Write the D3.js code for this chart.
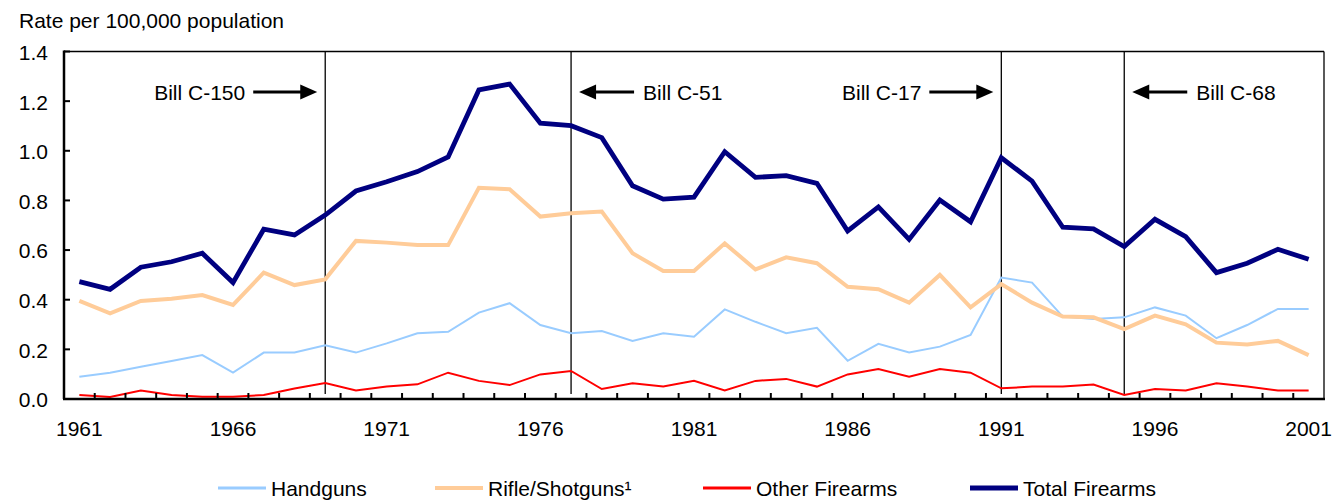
<!DOCTYPE html>
<html>
<head>
<meta charset="utf-8">
<script src="https://cdn.jsdelivr.net/npm/d3@7"></script>
<style>
  body { margin: 0; background: #fff; }
  svg text { font-family: "Liberation Sans", Arial, sans-serif; fill: #000; }
</style>
</head>
<body>
<div id="viz"></div>
<script>
const years = d3.range(1961, 2002);

const handguns = [0.090, 0.106, 0.130, 0.153, 0.177, 0.106, 0.187, 0.187, 0.216, 0.187,
    0.224, 0.265, 0.271, 0.348, 0.386, 0.298, 0.265, 0.274, 0.234, 0.265,
    0.251, 0.361, 0.311, 0.265, 0.287, 0.154, 0.222, 0.187, 0.211, 0.258,
    0.489, 0.469, 0.332, 0.322, 0.329, 0.369, 0.336, 0.245, 0.298, 0.363, 0.363];

const rifles = [0.395, 0.345, 0.395, 0.404, 0.419, 0.379, 0.509, 0.459, 0.482, 0.637,
    0.630, 0.620, 0.620, 0.851, 0.845, 0.735, 0.748, 0.755, 0.587, 0.516,
    0.516, 0.627, 0.522, 0.571, 0.547, 0.452, 0.442, 0.388, 0.500, 0.369,
    0.463, 0.388, 0.332, 0.329, 0.282, 0.336, 0.301, 0.227, 0.220, 0.234, 0.177];

const other = [0.016, 0.008, 0.034, 0.016, 0.009, 0.009, 0.016, 0.042, 0.064, 0.034,
    0.050, 0.059, 0.106, 0.073, 0.056, 0.099, 0.113, 0.040, 0.063, 0.050,
    0.073, 0.034, 0.073, 0.081, 0.050, 0.099, 0.121, 0.090, 0.121, 0.106,
    0.043, 0.050, 0.050, 0.058, 0.016, 0.040, 0.034, 0.063, 0.050, 0.034, 0.034];

const total = [0.473, 0.442, 0.531, 0.553, 0.587, 0.469, 0.684, 0.661, 0.741, 0.838,
    0.875, 0.916, 0.975, 1.245, 1.269, 1.111, 1.101, 1.053, 0.859, 0.805,
    0.813, 0.996, 0.893, 0.900, 0.869, 0.677, 0.774, 0.643, 0.802, 0.714,
    0.972, 0.878, 0.692, 0.685, 0.614, 0.724, 0.654, 0.509, 0.547, 0.603, 0.563];

const seriesNames = ["Handguns", "Rifle/Shotguns\u00b9", "Other Firearms", "Total Firearms"];
const yTicks = [0, 0.2, 0.4, 0.6, 0.8, 1.0, 1.2, 1.4];
const xLabelYears = [1961, 1966, 1971, 1976, 1981, 1986, 1991, 1996, 2001];

// legislation markers: year of the line, label, arrow direction
const bills = [
    { year: 1969, label: "Bill C-150", side: "left" },
    { year: 1977, label: "Bill C-51", side: "right" },
    { year: 1991, label: "Bill C-17", side: "left" },
    { year: 1995, label: "Bill C-68", side: "right" }
];

const width = 1341, height = 502;
const margin = { left: 64, right: 17, top: 51.5, bottom: 103 };
const fontSize = "21px";

const svg = d3.select("#viz").append("svg")
    .attr("width", width)
    .attr("height", height);

const x = d3.scaleBand()
    .domain(years)
    .range([margin.left, width - margin.right]);

const y = d3.scaleLinear()
    .domain([0, 1.4])
    .range([height - margin.bottom, margin.top]);

const cx = d => x(d) + x.bandwidth() / 2;
const x0 = margin.left, x1 = width - margin.right;
const y0 = y(0), y1 = y(1.4);

// plot frame (top / right thin)
svg.append("line").attr("x1", x0).attr("x2", x1).attr("y1", y1).attr("y2", y1)
    .attr("stroke", "#000").attr("stroke-width", 1.3);
svg.append("line").attr("x1", x1).attr("x2", x1).attr("y1", y1).attr("y2", y0)
    .attr("stroke", "#000").attr("stroke-width", 1.3);

// bill lines
svg.selectAll(".bill-line")
    .data(bills)
    .join("line")
        .attr("class", "bill-line")
        .attr("x1", d => cx(d.year))
        .attr("x2", d => cx(d.year))
        .attr("y1", y1)
        .attr("y2", y0 - 5)
        .attr("stroke", "#000")
        .attr("stroke-width", 1.3);

// series lines
const series = [
    { name: seriesNames[0], values: handguns, color: "#99ccff", w: 2 },
    { name: seriesNames[1], values: rifles, color: "#ffcc99", w: 4 },
    { name: seriesNames[2], values: other, color: "#ff0000", w: 2 },
    { name: seriesNames[3], values: total, color: "#000080", w: 4.8 }
];

const line = d3.line()
    .x((d, i) => cx(years[i]))
    .y(d => y(d));

svg.selectAll(".series")
    .data(series)
    .join("path")
        .attr("class", "series")
        .attr("fill", "none")
        .attr("stroke", d => d.color)
        .attr("stroke-width", d => d.w)
        .attr("stroke-linejoin", "miter")
        .attr("d", d => line(d.values));

// axes
svg.append("line").attr("x1", x0).attr("x2", x0).attr("y1", y1 - 1).attr("y2", y0)
    .attr("stroke", "#000").attr("stroke-width", 2.5);
svg.append("line").attr("x1", x0 - 1).attr("x2", x1 + 1).attr("y1", y0).attr("y2", y0)
    .attr("stroke", "#000").attr("stroke-width", 2.5);

// y ticks (inside)
svg.selectAll(".ytick")
    .data(yTicks)
    .join("line")
        .attr("class", "ytick")
        .attr("x1", x0).attr("x2", x0 + 6)
        .attr("y1", d => y(d)).attr("y2", d => y(d))
        .attr("stroke", "#000").attr("stroke-width", 2);

svg.selectAll(".ylabel")
    .data(yTicks)
    .join("text")
        .attr("class", "ylabel")
        .attr("x", 48)
        .attr("y", d => y(d))
        .attr("dy", "0.4em")
        .style("text-anchor", "end")
        .style("font-size", fontSize)
        .text(d => d.toFixed(1));

// x ticks between categories (inside)
svg.selectAll(".xtick")
    .data(years.slice(1))
    .join("line")
        .attr("class", "xtick")
        .attr("x1", d => x(d)).attr("x2", d => x(d))
        .attr("y1", y0).attr("y2", y0 - 6)
        .attr("stroke", "#000").attr("stroke-width", 2);

svg.selectAll(".xlabel")
    .data(xLabelYears)
    .join("text")
        .attr("class", "xlabel")
        .attr("x", d => cx(d))
        .attr("y", 436)
        .style("text-anchor", "middle")
        .style("font-size", fontSize)
        .text(d => d);

svg.append("text")
    .attr("x", 19)
    .attr("y", 28)
    .style("font-size", fontSize)
    .text("Rate per 100,000 population");

// bill labels with arrows
const arrowY = 92;
bills.forEach(b => {
    const lx = cx(b.year);
    let tip, tail, tx, anchor;
    if (b.side === "left") {
        tip = lx - 8; tail = tip - 64; tx = tail - 8; anchor = "end";
    } else {
        tip = lx + 8; tail = tip + 55; tx = tail + 9; anchor = "start";
    }
    const dir = b.side === "left" ? 1 : -1;
    svg.append("line")
        .attr("x1", tail).attr("x2", tip - dir * 10)
        .attr("y1", arrowY).attr("y2", arrowY)
        .attr("stroke", "#000").attr("stroke-width", 3);
    svg.append("path")
        .attr("d", `M${tip},${arrowY} L${tip - dir * 17},${arrowY - 7.5} L${tip - dir * 17},${arrowY + 7.5} Z`)
        .attr("fill", "#000");
    svg.append("text")
        .attr("x", tx)
        .attr("y", arrowY)
        .attr("dy", "0.36em")
        .style("text-anchor", anchor)
        .style("font-size", fontSize)
        .text(b.label);
});

// legend
const legendX = [218, 435, 703, 970];
const legend = svg.selectAll(".legend")
    .data(series)
    .join("g")
        .attr("class", "legend")
        .attr("transform", (d, i) => `translate(${legendX[i]},488)`);

legend.append("line")
    .attr("x1", 0).attr("x2", 48)
    .attr("stroke", d => d.color)
    .attr("stroke-width", d => Math.max(d.w, 3));

legend.append("text")
    .attr("x", 53)
    .attr("dy", "0.36em")
    .style("font-size", fontSize)
    .text(d => d.name);
</script>
</body>
</html>
